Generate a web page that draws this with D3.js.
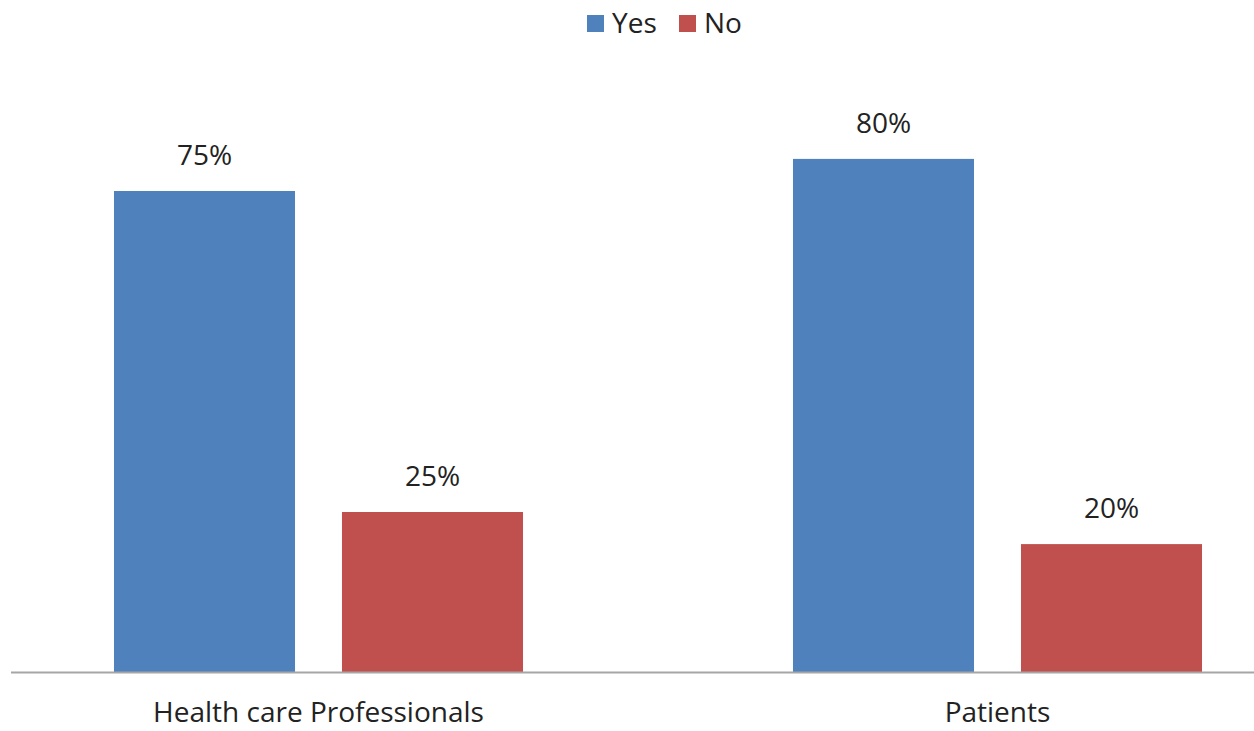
<html>
<head>
<script src="https://d3js.org/d3.v7.min.js"></script>
<style>
  body { margin: 0; background: #fff; }
  text { font-family: "Open Sans", sans-serif; fill: #222; }
</style>
</head>
<body>
<div id="chart"></div>
<script>
const categories = ["Health care Professionals", "Patients"];
const seriesNames = ["Yes", "No"];
const yesValues = [75, 80];
const noValues = [25, 20];
const colors = {"Yes": "#4F81BD", "No": "#C0504D"};

const width = 1254, height = 731;
const baseY = 672.5;

const svg = d3.select('#chart').append('svg')
    .attr('width', width)
    .attr('height', height);

const rows = categories.map((c, i) => ({
    category: c,
    values: [{key: "Yes", value: yesValues[i]}, {key: "No", value: noValues[i]}]
}));

// chart is cropped on both sides, so the band range runs past the window
const x0 = d3.scaleBand()
    .domain(categories)
    .range([-21, 1337])
    .paddingInner(0.3976)
    .paddingOuter(0.1988);

const x1 = d3.scaleBand()
    .domain(seriesNames)
    .range([0, x0.bandwidth()])
    .paddingInner(0.206);

const y = d3.scaleLinear()
    .domain([0, 100])
    .range([baseY, baseY - 642]);

const groups = svg.selectAll('.group')
    .data(rows)
    .enter().append('g')
        .attr('class', 'group')
        .attr('transform', d => `translate(${x0(d.category)},0)`);

groups.selectAll('rect')
    .data(d => d.values)
    .enter().append('rect')
        .attr('x', d => x1(d.key))
        .attr('y', d => y(d.value))
        .attr('width', x1.bandwidth())
        .attr('height', d => y(0) - y(d.value))
        .attr('fill', d => colors[d.key]);

groups.selectAll('.label')
    .data(d => d.values)
    .enter().append('text')
        .attr('class', 'label')
        .attr('x', d => x1(d.key) + x1.bandwidth() / 2)
        .attr('y', d => y(d.value) - 26)
        .attr('text-anchor', 'middle')
        .style('font-size', '28px')
        .text(d => d.value + '%');

// axis line
svg.append('line')
    .attr('x1', 11).attr('x2', width)
    .attr('y1', baseY).attr('y2', baseY)
    .attr('stroke', '#A6A6A6')
    .attr('stroke-width', 2);

svg.selectAll('.cat')
    .data(categories)
    .enter().append('text')
        .attr('class', 'cat')
        .attr('x', d => x0(d) + x0.bandwidth() / 2)
        .attr('y', 722)
        .attr('text-anchor', 'middle')
        .style('font-size', '28px')
        .text(d => d);

// legend
const legendX = [587, 679];
const legend = svg.selectAll('.legend')
    .data(seriesNames)
    .enter().append('g')
        .attr('class', 'legend')
        .attr('transform', (d, i) => `translate(${legendX[i]},0)`);

legend.append('rect')
    .attr('x', 0).attr('y', 15)
    .attr('width', 17).attr('height', 17)
    .attr('fill', d => colors[d]);

legend.append('text')
    .attr('x', 25).attr('y', 33)
    .style('font-size', '28px')
    .text(d => d);
</script>
</body>
</html>
